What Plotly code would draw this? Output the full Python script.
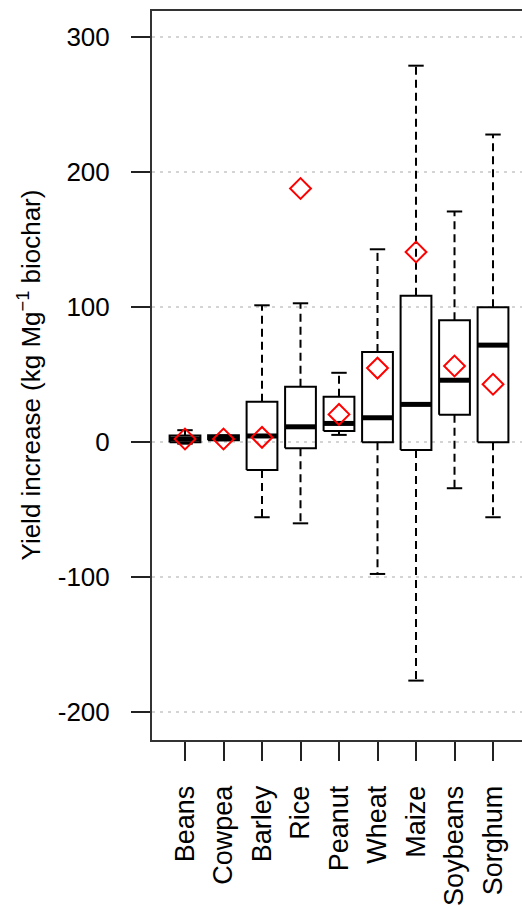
import plotly.graph_objects as go

categories = ["Beans", "Cowpea", "Barley", "Rice", "Peanut", "Wheat", "Maize", "Soybeans", "Sorghum"]
lower_whisker = [-1, 1.5, -55.5, -60, 5.5, -97.5, -176.5, -34, -55.5]
q1 = [0, 1.5, -20.5, -4.4, 8.4, 0, -5.7, 20.5, 0]
median = [2.5, 3.2, 4.7, 11.5, 14, 18.2, 28.1, 46, 72]
q3 = [5, 5.2, 30, 41.2, 33.8, 67, 108.5, 90.5, 100]
upper_whisker = [9, 5.2, 101.5, 103, 51.5, 143, 279, 171, 228]
mean = [2.5, 2.5, 3.7, 188, 20.7, 55, 141, 56.5, 43]

y_ticks = [-200, -100, 0, 100, 200, 300]
y_tick_labels = ["-200", "-100", "0", "100", "200", "300"]

FONT = "Liberation Sans, Arial, sans-serif"
BOXW = 0.4   # half box width (boxwex 0.8)
CAPW = 0.2   # half staple width

pos = list(range(len(categories)))

# whiskers (dashed)
wx, wy = [], []
for i in pos:
    wx += [i, i, None, i, i, None]
    wy += [q3[i], upper_whisker[i], None, q1[i], lower_whisker[i], None]

# staples (solid)
cx, cy = [], []
for i in pos:
    cx += [i - CAPW, i + CAPW, None, i - CAPW, i + CAPW, None]
    cy += [upper_whisker[i], upper_whisker[i], None, lower_whisker[i], lower_whisker[i], None]

# boxes
bx, by = [], []
for i in pos:
    bx += [i - BOXW, i + BOXW, i + BOXW, i - BOXW, i - BOXW, None]
    by += [q1[i], q1[i], q3[i], q3[i], q1[i], None]

# medians
mx, my = [], []
for i in pos:
    mx += [i - BOXW, i + BOXW, None]
    my += [median[i], median[i], None]

fig = go.Figure()
fig.add_trace(go.Scatter(x=wx, y=wy, mode="lines", line=dict(color="black", width=2, dash="8px,5px"),
                         hoverinfo="skip", showlegend=False))
fig.add_trace(go.Scatter(x=cx, y=cy, mode="lines", line=dict(color="black", width=2),
                         hoverinfo="skip", showlegend=False))
fig.add_trace(go.Scatter(x=bx, y=by, mode="lines", line=dict(color="black", width=2),
                         fill="toself", fillcolor="rgba(255,255,255,0)",
                         hoverinfo="skip", showlegend=False))
fig.add_trace(go.Scatter(x=mx, y=my, mode="lines", line=dict(color="black", width=5),
                         hoverinfo="skip", showlegend=False))
fig.add_trace(go.Scatter(x=pos, y=mean, mode="markers",
                         marker=dict(symbol="diamond-open", size=16, color="#ff0000",
                                     line=dict(color="#ff0000", width=2)),
                         showlegend=False))

fig.update_layout(
    width=522, height=906, autosize=False,
    margin=dict(l=152, r=0, t=11, b=166, pad=0),
    plot_bgcolor="white", paper_bgcolor="white",
    font=dict(family=FONT, size=26, color="black"),
    showlegend=False,
)
fig.update_xaxes(
    range=[-0.857, 8.753], tickmode="array", tickvals=pos, ticktext=categories,
    tickangle=-90, ticks="outside", ticklen=19, tickwidth=2, tickcolor="#222",
    showline=True, linecolor="#333", linewidth=2, mirror=True,
    showgrid=False, zeroline=False, ticklabelstandoff=14,
    tickfont=dict(family=FONT, size=27, color="black"),
)
fig.update_yaxes(
    range=[-220.5, 319.5], tickmode="array", tickvals=y_ticks, ticktext=y_tick_labels,
    ticks="outside", ticklen=19, tickwidth=2, tickcolor="#222",
    showline=True, linecolor="#333", linewidth=2, mirror=False,
    showgrid=True, gridcolor="#d4d4d4", gridwidth=1.5, griddash="3px,5px",
    zeroline=False, ticklabelstandoff=16,
    tickfont=dict(family=FONT, size=26, color="black"),
)
fig.add_annotation(
    text="Yield increase (kg Mg<sup>\u22121</sup> biochar)",
    xref="paper", yref="paper", x=0, y=0.5, xshift=-122,
    xanchor="center", yanchor="middle", textangle=-90, showarrow=False,
    font=dict(family=FONT, size=26, color="black"),
)

fig.write_html("out.html")
